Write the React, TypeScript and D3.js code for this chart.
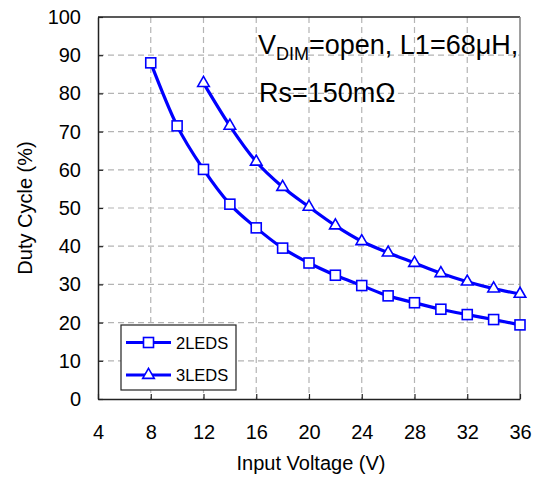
import { useEffect, useRef } from "react";
import * as d3 from "d3";

const volts2 = [8, 10, 12, 14, 16, 18, 20, 22, 24, 26, 28, 30, 32, 34, 36];
const duty2 = [88, 71.5, 60.1, 51, 44.8, 39.5, 35.6, 32.4, 29.7, 27.0, 25.2, 23.5, 22.1, 20.8, 19.4];
const volts3 = [12, 14, 16, 18, 20, 22, 24, 26, 28, 30, 32, 34, 36];
const duty3 = [82.7, 71.5, 62.1, 55.5, 50.3, 45.4, 41.3, 38.3, 35.6, 32.9, 30.7, 28.9, 27.5];
const xTicks = [4, 8, 12, 16, 20, 24, 28, 32, 36];
const yTicks = [0, 10, 20, 30, 40, 50, 60, 70, 80, 90, 100];
const seriesNames = ["2LEDS", "3LEDS"];

const W = 539;
const H = 479;
const PLOT = { left: 98, right: 520, top: 17, bottom: 399 };
const FONT = "'Liberation Sans', Arial, Helvetica, sans-serif";
const BLUE = "#0000ff";

export default function App() {
  const svgRef = useRef<SVGSVGElement>(null);

  useEffect(() => {
    const svg = d3.select(svgRef.current);
    svg.selectAll("*").remove();

    const x = d3.scaleLinear().domain([4, 36]).range([PLOT.left, PLOT.right]);
    const y = d3.scaleLinear().domain([0, 100]).range([PLOT.bottom, PLOT.top]);

    // grid
    const grid = svg.append("g").attr("stroke", "#b4b4b4").attr("stroke-width", 1.2).attr("stroke-dasharray", "6,4");
    xTicks.slice(1, -1).forEach((t) => {
      grid.append("line").attr("x1", x(t)).attr("x2", x(t)).attr("y1", PLOT.top).attr("y2", PLOT.bottom);
    });
    yTicks.slice(1, -1).forEach((t) => {
      grid.append("line").attr("x1", PLOT.left).attr("x2", PLOT.right).attr("y1", y(t)).attr("y2", y(t));
    });

    // frame: top dark, right gray
    svg.append("line").attr("x1", PLOT.left).attr("x2", PLOT.right).attr("y1", PLOT.top).attr("y2", PLOT.top).attr("stroke", "#222").attr("stroke-width", 1.5);
    svg.append("line").attr("x1", PLOT.right).attr("x2", PLOT.right).attr("y1", PLOT.top).attr("y2", PLOT.bottom).attr("stroke", "#808080").attr("stroke-width", 1.5);

    // axes
    const xAxis = svg.append("g").attr("transform", `translate(0,${PLOT.bottom})`)
      .call(d3.axisBottom(x).tickValues(xTicks).tickSizeInner(-5).tickSizeOuter(0).tickPadding(26));
    const yAxis = svg.append("g").attr("transform", `translate(${PLOT.left},0)`)
      .call(d3.axisLeft(y).tickValues(yTicks).tickSizeInner(-5).tickSizeOuter(0).tickPadding(17));
    [xAxis, yAxis].forEach((a) => {
      a.select(".domain").attr("stroke", "#222").attr("stroke-width", 1.5);
      a.selectAll(".tick line").attr("stroke", "#222").attr("stroke-width", 1.2);
      a.selectAll("text").attr("font-family", FONT).attr("font-size", 20).attr("fill", "#000");
    });

    // axis titles
    svg.append("text").attr("x", 311).attr("y", 470)
      .attr("text-anchor", "middle").attr("font-family", FONT).attr("font-size", 20).text("Input Voltage (V)");
    svg.append("text").attr("transform", `translate(32,${(PLOT.top + PLOT.bottom) / 2}) rotate(-90)`)
      .attr("text-anchor", "middle").attr("font-family", FONT).attr("font-size", 20).text("Duty Cycle (%)");

    // series
    const line = d3.line<[number, number]>().x((d) => x(d[0])).y((d) => y(d[1])).curve(d3.curveMonotoneX);
    const s2 = volts2.map((v, i) => [v, duty2[i]] as [number, number]);
    const s3 = volts3.map((v, i) => [v, duty3[i]] as [number, number]);
    [s2, s3].forEach((s) => {
      svg.append("path").datum(s).attr("d", line).attr("fill", "none").attr("stroke", BLUE).attr("stroke-width", 3.2);
    });

    const sq = 10;
    const drawSquare = (g: d3.Selection<SVGGElement, unknown, null, undefined>, cx: number, cy: number) =>
      g.append("rect").attr("x", cx - sq / 2).attr("y", cy - sq / 2).attr("width", sq).attr("height", sq)
        .attr("fill", "#fff").attr("stroke", BLUE).attr("stroke-width", 1.6);
    const tri = d3.symbol().type(d3.symbolTriangle).size(58);
    const drawTri = (g: d3.Selection<SVGGElement, unknown, null, undefined>, cx: number, cy: number) =>
      g.append("path").attr("d", tri()).attr("transform", `translate(${cx},${cy})`)
        .attr("fill", "#fff").attr("stroke", BLUE).attr("stroke-width", 1.6);

    const marks = svg.append("g");
    s2.forEach((d) => drawSquare(marks, x(d[0]), y(d[1])));
    s3.forEach((d) => drawTri(marks, x(d[0]), y(d[1])));

    // annotation
    const ann = svg.append("text").attr("x", 258).attr("y", 54).attr("font-family", FONT).attr("font-size", 27);
    ann.append("tspan").text("V");
    ann.append("tspan").attr("dy", 6).attr("font-size", 18).text("DIM");
    ann.append("tspan").attr("dy", -6).text("=open, L1=68\u03bcH,");
    svg.append("text").attr("x", 259).attr("y", 102).attr("font-family", FONT).attr("font-size", 27).text("Rs=150m\u03a9");

    // legend
    const lg = svg.append("g");
    lg.append("rect").attr("x", 121).attr("y", 325).attr("width", 115).attr("height", 65)
      .attr("fill", "#fff").attr("stroke", "#222").attr("stroke-width", 1.2);
    seriesNames.forEach((name, i) => {
      const ly = 342.5 + i * 32.5;
      lg.append("line").attr("x1", 126).attr("x2", 171).attr("y1", ly).attr("y2", ly).attr("stroke", BLUE).attr("stroke-width", 3.2);
      if (i === 0) drawSquare(lg, 148.5, ly);
      else drawTri(lg, 148.5, ly);
      lg.append("text").attr("x", 176).attr("y", ly + 6).attr("font-family", FONT).attr("font-size", 16.5).text(name);
    });
  }, []);

  return (
    <svg ref={svgRef} width={W} height={H} style={{ position: "absolute", left: 0, top: 0, background: "#fff" }} />
  );
}
